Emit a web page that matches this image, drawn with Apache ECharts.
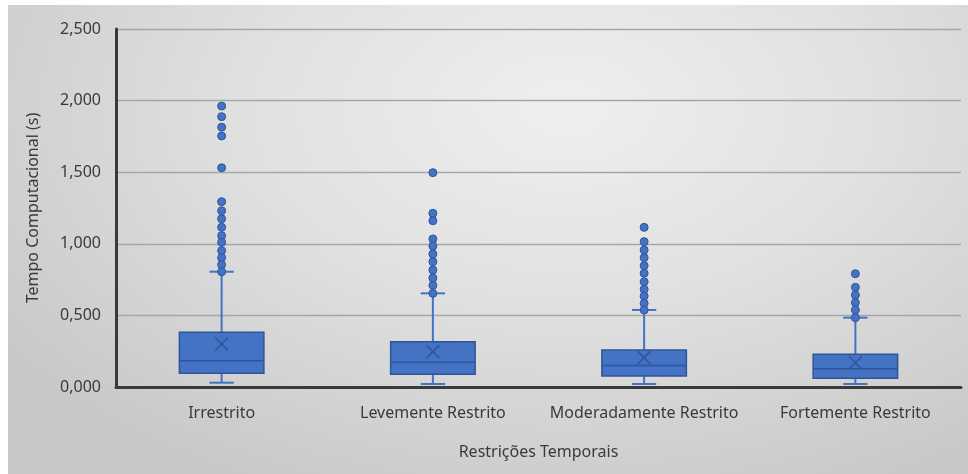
<!DOCTYPE html>
<html>
<head>
<meta charset="utf-8">
<script src="https://cdn.jsdelivr.net/npm/echarts@6/dist/echarts.min.js"></script>
<style>
  html, body { margin: 0; padding: 0; background: #ffffff; }
  #wrap { position: relative; width: 968px; height: 474px; overflow: hidden; }
  #bg {
    position: absolute; left: 8px; top: 5px; right: 0; bottom: 0;
    background: radial-gradient(ellipse 72% 90% at 58% 22%, #efefef 0%, #e1e1e1 45%, #c8c8c8 100%);
  }
  #chart { position: absolute; left: 0; top: 0; width: 968px; height: 474px; }
</style>
</head>
<body>
<div id="wrap">
  <div id="bg"></div>
  <div id="chart"></div>
</div>
<script>
// Categories (time-restriction scenarios)
const categories = ['Irrestrito', 'Levemente Restrito', 'Moderadamente Restrito', 'Fortemente Restrito'];

// Box statistics per category (seconds)
const whiskerLow  = [0.030, 0.021, 0.021, 0.021];
const quartile1   = [0.096, 0.089, 0.077, 0.061];
const medians     = [0.184, 0.172, 0.151, 0.128];
const quartile3   = [0.382, 0.316, 0.258, 0.228];
const whiskerHigh = [0.805, 0.654, 0.538, 0.484];
const means       = [0.300, 0.247, 0.205, 0.170];

// Outlier points per category
const outliersIrrestrito = [1.962, 1.888, 1.814, 1.753, 1.531, 1.294, 1.231, 1.175, 1.115, 1.057, 1.010, 0.952, 0.903, 0.854, 0.805];
const outliersLevemente  = [1.497, 1.213, 1.161, 1.034, 0.985, 0.929, 0.875, 0.817, 0.761, 0.710, 0.654];
const outliersModerado   = [1.115, 1.015, 0.957, 0.903, 0.847, 0.794, 0.735, 0.682, 0.635, 0.584, 0.538];
const outliersFortemente = [0.791, 0.696, 0.642, 0.589, 0.538, 0.484];

// Y-axis ticks
const yTicks = [0, 0.5, 1.0, 1.5, 2.0, 2.5];

const outlierGroups = [outliersIrrestrito, outliersLevemente, outliersModerado, outliersFortemente];
const boxData = categories.map((c, i) => [i, whiskerLow[i], quartile1[i], medians[i], quartile3[i], whiskerHigh[i], means[i]]);
const outlierData = [];
outlierGroups.forEach((arr, i) => arr.forEach(v => outlierData.push([i, v])));

const BLUE = '#4472C4';
const DARK = '#2F5597';
const TEXT = '#3a3a3a';
const FONT = 'Noto Sans';

const fmt = v => v.toFixed(3).replace('.', ',');

function renderBox(params, api) {
  const i = api.value(0);
  const band = api.size([1, 0])[0];
  const boxW = band * 0.40;
  const capW = band * 0.115;
  const [cx, yLo] = api.coord([i, api.value(1)]);
  const yQ1 = api.coord([i, api.value(2)])[1];
  const yMed = api.coord([i, api.value(3)])[1];
  const yQ3 = api.coord([i, api.value(4)])[1];
  const yHi = api.coord([i, api.value(5)])[1];
  const yMean = api.coord([i, api.value(6)])[1];
  const m = 6.5;
  const whisk = { stroke: BLUE, lineWidth: 2 };
  return {
    type: 'group',
    children: [
      { type: 'line', shape: { x1: cx, y1: yLo, x2: cx, y2: yQ1 }, style: whisk },
      { type: 'line', shape: { x1: cx, y1: yQ3, x2: cx, y2: yHi }, style: whisk },
      { type: 'line', shape: { x1: cx - capW / 2, y1: yLo, x2: cx + capW / 2, y2: yLo }, style: whisk },
      { type: 'line', shape: { x1: cx - capW / 2, y1: yHi, x2: cx + capW / 2, y2: yHi }, style: whisk },
      { type: 'rect', shape: { x: cx - boxW / 2, y: yQ3, width: boxW, height: yQ1 - yQ3 },
        style: { fill: BLUE, stroke: DARK, lineWidth: 1.5 } },
      { type: 'line', shape: { x1: cx - boxW / 2, y1: yMed, x2: cx + boxW / 2, y2: yMed },
        style: { stroke: DARK, lineWidth: 1.5 } },
      { type: 'line', shape: { x1: cx - m, y1: yMean - m, x2: cx + m, y2: yMean + m },
        style: { stroke: DARK, lineWidth: 1.5 } },
      { type: 'line', shape: { x1: cx - m, y1: yMean + m, x2: cx + m, y2: yMean - m },
        style: { stroke: DARK, lineWidth: 1.5 } }
    ]
  };
}

const chart = echarts.init(document.getElementById('chart'), null, { renderer: 'canvas' });
chart.setOption({
  backgroundColor: 'transparent',
  animation: false,
  textStyle: { fontFamily: FONT },
  grid: { left: 116, right: 7, top: 29, bottom: 87 },
  xAxis: {
    type: 'category',
    data: categories,
    boundaryGap: true,
    axisLine: { lineStyle: { color: TEXT, width: 3 } },
    axisTick: { show: false },
    axisLabel: { color: TEXT, fontSize: 16, fontFamily: FONT, margin: 18, interval: 0 },
    name: 'Restrições Temporais',
    nameLocation: 'middle',
    nameGap: 57,
    nameTextStyle: { color: TEXT, fontSize: 16, fontFamily: FONT }
  },
  yAxis: {
    type: 'value',
    min: yTicks[0],
    max: yTicks[yTicks.length - 1],
    interval: yTicks[1] - yTicks[0],
    axisLine: { show: true, lineStyle: { color: TEXT, width: 3 } },
    axisTick: { show: false },
    splitLine: { lineStyle: { color: '#a6a6a6', width: 1.3 } },
    axisLabel: { color: TEXT, fontSize: 16, fontFamily: FONT, margin: 15, formatter: fmt },
    name: 'Tempo Computacional (s)',
    nameLocation: 'middle',
    nameGap: 75,
    nameTextStyle: { color: TEXT, fontSize: 16, fontFamily: FONT }
  },
  series: [
    {
      type: 'custom',
      renderItem: renderBox,
      data: boxData,
      encode: { x: 0, y: [1, 2, 3, 4, 5, 6] },
      z: 3
    },
    {
      type: 'scatter',
      data: outlierData,
      symbol: 'circle',
      symbolSize: 8,
      itemStyle: { color: BLUE, borderColor: DARK, borderWidth: 1, opacity: 1 },
      z: 4
    }
  ]
});
</script>
</body>
</html>
